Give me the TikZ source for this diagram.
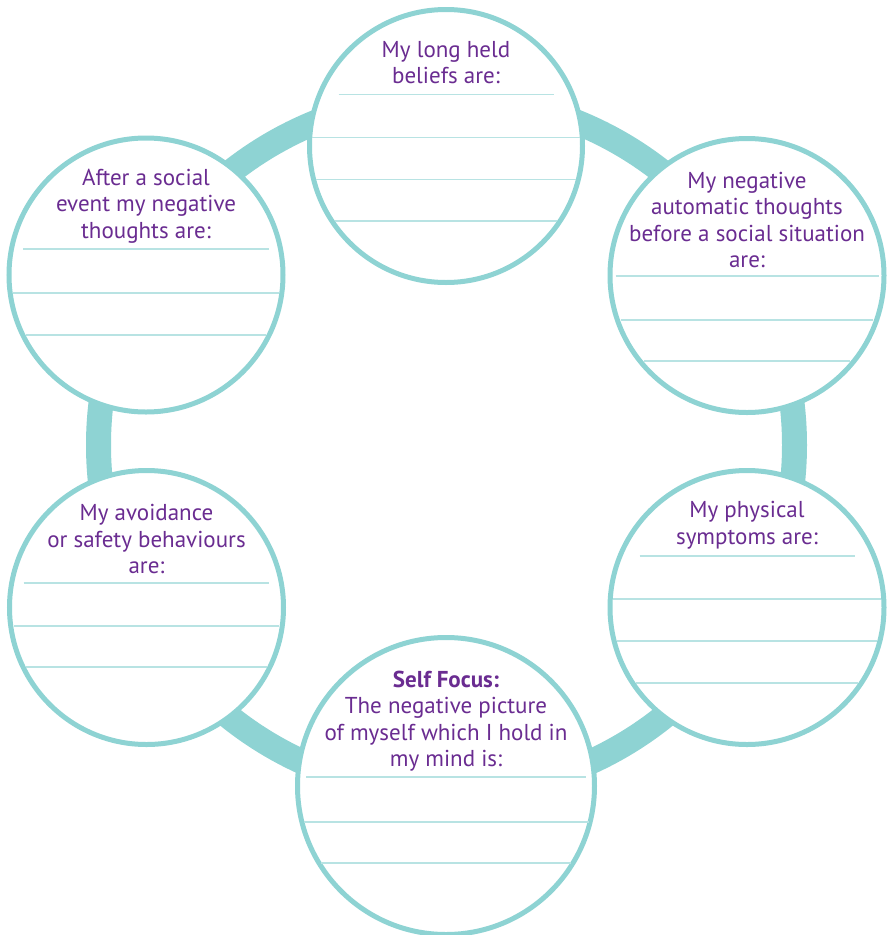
\documentclass[tikz,border=0pt]{standalone}
\usepackage{fontspec}
\setmainfont{PT Sans}
\usetikzlibrary{calc}
\definecolor{tealc}{RGB}{142,211,211}
\definecolor{rulec}{RGB}{184,227,227}
\definecolor{purp}{RGB}{106,44,145}
\newcommand\wline[3]{\draw[rule] ($(#1)+(-#3,#2)$) -- ($(#1)+(#3,#2)$);}
\begin{document}
\begin{tikzpicture}[x=1pt,y=-1pt,
  bubble/.style={circle,draw=tealc,line width=5pt,fill=white,inner sep=0pt,minimum size=#1},
  rule/.style={draw=rulec,line width=1.2pt},
  lbl/.style={text=purp,align=center,inner sep=0pt,font=\fontsize{23}{26.5}\selectfont}]
\useasboundingbox (0,0) rectangle (888,935);
\coordinate (rc) at (446.5,445);
\draw[tealc,line width=25pt] (rc) circle (348pt);
% circles
\node[bubble=273pt] (c1) at (446,146) {};
\node[bubble=274pt] (c2) at (747,275.5) {};
\node[bubble=274pt] (c3) at (146,275) {};
\node[bubble=274pt] (c4) at (747,607.5) {};
\node[bubble=274pt] (c5) at (146.5,607.5) {};
\node[bubble=297pt] (c6) at (446,786) {};
% rules
\wline{c1}{-51.7}{107.5}
\wline{c1}{-8.3}{133.7}
\wline{c1}{33.3}{129.8}
\wline{c1}{75}{111}
\wline{c2}{0.5}{131.5}
\wline{c2}{44.5}{126.4}
\wline{c2}{85.5}{103.2}
\wline{c3}{-26}{122.8}
\wline{c3}{18}{132.8}
\wline{c3}{60}{119.8}
\wline{c4}{-51.5}{107.5}
\wline{c4}{-8.5}{133.7}
\wline{c4}{33.5}{129.7}
\wline{c4}{75.5}{110.7}
\wline{c5}{-24.5}{122.8}
\wline{c5}{18.5}{132.7}
\wline{c5}{59.5}{120.1}
\wline{c6}{-9}{140}
\wline{c6}{36}{142.5}
\wline{c6}{77}{125.2}
% labels
\node[lbl] (t1) at (446,62.5) {My long held\\beliefs are:};
\node[lbl] (t2) at (747,219.8) {My negative\\automatic thoughts\\before a social situation\\are:};
\node[lbl] (t3) at (146,206) {After a social\\event my negative\\thoughts are:};
\node[lbl] (t4) at (747,525) {My physical\\symptoms are:};
\node[lbl] (t5) at (146.5,539) {My avoidance\\or safety behaviours\\are:};
\node[lbl] (t6) at (446,721) {\textbf{Self Focus:}\\The negative picture\\of myself which I hold in\\my mind is:};
\end{tikzpicture}
\end{document}
